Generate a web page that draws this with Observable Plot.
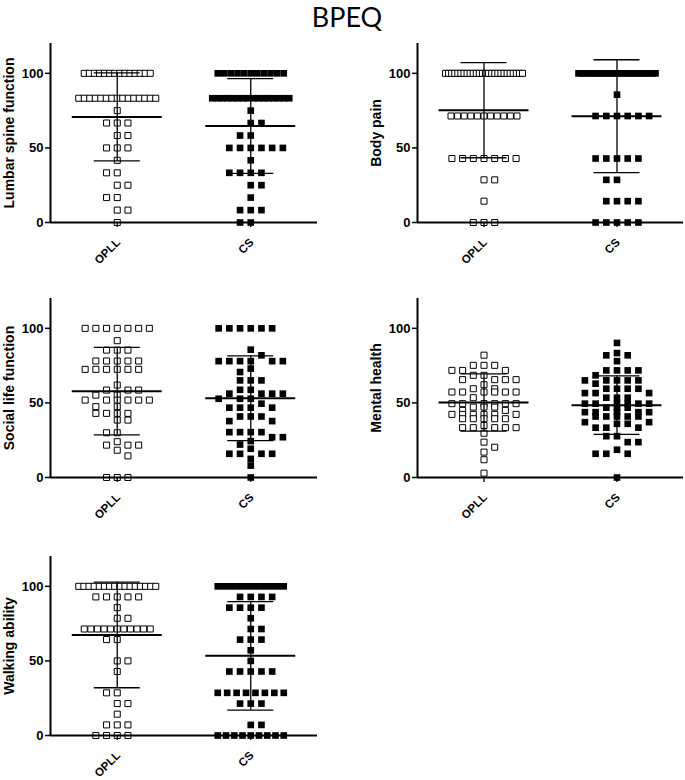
<!DOCTYPE html>
<html><head><meta charset="utf-8">
<script src="https://cdn.jsdelivr.net/npm/d3@7"></script>
<script src="https://cdn.jsdelivr.net/npm/@observablehq/plot@0.6"></script>
<style>
body{margin:0;background:#fff;}
#root{position:relative;width:685px;height:780px;overflow:hidden;background:#fff;}
#title{position:absolute;left:0;top:0;width:685px;padding-left:9px;box-sizing:border-box;text-align:center;font:400 27px/33px Lato, "Open Sans", sans-serif;color:#000;}
.panel{position:absolute;}
</style></head><body>
<div id="root"><div id="title">BPEQ</div></div>
<script>
// ---- data ----
const groups = ["OPLL", "CS"];
const yTicks = [0, 50, 100];
const labels = ["Lumbar spine function", "Body pain", "Social life function", "Mental health", "Walking ability"];

// [value, count]
const lumbarOPLL = [[100,14],[83.3,15],[75,1],[66.7,3],[58.3,2],[50,3],[41.7,1],[33.3,2],[25,2],[16.7,2],[8.3,2],[0,1]];
const lumbarCS   = [[100,11],[83.3,16],[75,1],[66.7,2],[58.3,2],[50,6],[41.7,1],[33.3,4],[25,2],[16.7,1],[8.3,3],[0,2]];
const bodyOPLL   = [[100,26],[71.4,11],[42.9,7],[28.6,2],[14.3,1],[0,3]];
const bodyCS     = [[100,28],[85.7,1],[71.4,6],[42.9,5],[28.6,2],[14.3,4],[0,5]];
const socialOPLL = [[100,7],[91.7,1],[85.4,3],[78.1,5],[72.5,6],[62,1],[58.6,3],[55.2,2],[51.9,6],[47.5,2],[43,4],[38.5,2],[30,2],[24,1],[21.7,3],[18.3,1],[14.5,1],[0,3]];
const socialCS   = [[100,6],[85.7,1],[81.9,1],[78,6],[73,1],[70.7,1],[65.1,3],[58.8,2],[56.2,4],[52.8,3],[49.5,1],[46.8,4],[40.9,3],[37.8,2],[30.4,4],[27,2],[24.4,1],[22.1,1],[19.3,1],[15.9,4],[12.5,1],[8,1],[0,1]];
const mentalOPLL = [[82,1],[75.2,3],[71.8,3],[68.5,2],[65.6,4],[62.2,1],[59.5,2],[57.3,6],[53.5,1],[49.5,6],[47.2,3],[45,2],[42.3,6],[39.4,5],[34.9,1],[33.4,5],[29.7,1],[23.7,1],[20.3,1],[17,1],[11.9,1],[2.9,1]];
const mentalCS   = [[90.2,1],[83.4,1],[81.9,2],[78,1],[71.8,4],[68.5,1],[65.1,5],[62.9,1],[59.5,4],[56.6,3],[53.5,3],[49.5,6],[46.8,3],[43.8,5],[40.9,5],[37.1,2],[36,2],[33.4,3],[27.7,2],[23.7,2],[18.6,1],[15.9,3],[0,1]];
const walkOPLL   = [[100,16],[92.9,5],[85.7,1],[78.6,2],[71.4,11],[64.3,2],[50,2],[42.9,1],[28.6,2],[21.4,2],[14.3,1],[7.1,3],[0,4]];
const walkCS     = [[100,12],[92.9,4],[85.7,4],[78.6,1],[71.4,2],[64.3,3],[57.1,1],[50,1],[42.9,5],[28.6,8],[21.4,3],[7.1,2],[0,9]];

// mean and SD per group [OPLL, CS]
const meanLumbar = [70.8, 64.7], sdLumbar = [29.5, 31.7];
const meanBody   = [75.3, 71.3], sdBody   = [31.9, 37.8];
const meanSocial = [57.9, 53.1], sdSocial = [29.3, 28.4];
const meanMental = [50.3, 48.5], sdMental = [19.2, 19.6];
const meanWalk   = [67.4, 53.4], sdWalk   = [35.4, 36.4];

// ---- layout ----
const panels = [
  {label: labels[0], data: [lumbarOPLL, lumbarCS], mean: meanLumbar, sd: sdLumbar, left: 0, top: 33, right: false},
  {label: labels[1], data: [bodyOPLL, bodyCS], mean: meanBody, sd: sdBody, left: 367, top: 33, right: true},
  {label: labels[2], data: [socialOPLL, socialCS], mean: meanSocial, sd: sdSocial, left: 0, top: 288, right: false},
  {label: labels[3], data: [mentalOPLL, mentalCS], mean: meanMental, sd: sdMental, left: 367, top: 288, right: true},
  {label: labels[4], data: [walkOPLL, walkCS], mean: meanWalk, sd: sdWalk, left: 0, top: 546, right: false}
];

const PLOT_H = 179, Y_MAX = 120;
const PX_PER_Y = PLOT_H / Y_MAX;
const STEP = 10.7, COLL_X = 9, COLL_Y = 6.6;

function swarm(pairs) {
  const placed = [];
  let sign = -1;
  const sorted = pairs.slice().sort((a, b) => b[0] - a[0]);
  for (const [v, n] of sorted) {
    const py = v * PX_PER_Y;
    if (n >= 8) {
      const span = Math.min((n - 1) * STEP, n >= 15 ? 77 : 66);
      for (let i = 0; i < n; i++) placed.push({v, px: -span / 2 + span * i / (n - 1), py});
    } else {
      const cands = [0];
      for (let k = 1; k <= 3; k++) cands.push(sign * k, -sign * k);
      const halfs = [0.5 * sign, -0.5 * sign, 1.5 * sign, -1.5 * sign, 2.5 * sign, -2.5 * sign];
      for (let i = 0; i < n; i++) {
        let best = null;
        for (const c of cands.concat(halfs)) {
          const cx = c * STEP;
          const hit = placed.some(p => Math.abs(p.px - cx) < COLL_X && Math.abs(p.py - py) < COLL_Y);
          if (!hit) { best = cx; break; }
        }
        if (best === null) {
          let bestScore = -1;
          for (const c of cands) {
            const cx = c * STEP;
            let d = Infinity;
            for (const p of placed) if (Math.abs(p.px - cx) < COLL_X) d = Math.min(d, Math.abs(p.py - py));
            if (d > bestScore) { bestScore = d; best = cx; }
          }
        }
        placed.push({v, px: best, py});
      }
    }
    if (n % 2 === 0) sign = -sign;
  }
  return placed;
}

const FONT = "'Liberation Sans', Arial, Helvetica, sans-serif";

function makePanel(p) {
  const ml = 50, mr = p.right ? 2 : 25;
  const width = p.right ? 318 : 342;
  const plotW = width - ml - mr;
  const pxPerX = plotW / 2;
  const pts = [];
  p.data.forEach((pairs, gi) => {
    swarm(pairs).forEach(q => pts.push({g: gi, x: gi + q.px / pxPerX, y: q.v}));
  });
  const stats = p.mean.map((m, i) => ({g: i, mean: m, lo: m - p.sd[i], hi: m + p.sd[i]}));
  const hwMean = 45 / pxPerX, hwSD = 23 / pxPerX;
  return Plot.plot({
    width, height: 10 + PLOT_H + 45,
    marginLeft: ml, marginRight: mr, marginTop: 10, marginBottom: 45,
    x: {type: "linear", domain: [-0.5, 1.5]},
    y: {type: "linear", domain: [0, Y_MAX]},
    style: {fontFamily: FONT, background: "white", overflow: "visible", color: "black"},
    marks: [
      Plot.dot(pts.filter(d => d.g === 0), {x: "x", y: "y", symbol: "square", r: 3.4, fill: "white", stroke: "black", strokeWidth: 1}),
      Plot.dot(pts.filter(d => d.g === 1), {x: "x", y: "y", symbol: "square", r: 3.75, fill: "black", stroke: "none"}),
      Plot.ruleX(stats, {x: "g", y1: "lo", y2: "hi", stroke: "black", strokeWidth: 1.3}),
      Plot.ruleY(stats, {y: "mean", x1: d => d.g - hwMean, x2: d => d.g + hwMean, stroke: "black", strokeWidth: 2}),
      Plot.ruleY(stats, {y: "hi", x1: d => d.g - hwSD, x2: d => d.g + hwSD, stroke: "black", strokeWidth: 1.3}),
      Plot.ruleY(stats, {y: "lo", x1: d => d.g - hwSD, x2: d => d.g + hwSD, stroke: "black", strokeWidth: 1.3}),
      Plot.ruleX([-0.5], {y1: 0, y2: Y_MAX, stroke: "black", strokeWidth: 2}),
      Plot.ruleY([0], {x1: -0.5, x2: 1.5, stroke: "black", strokeWidth: 2}),
      Plot.axisY({ticks: yTicks, tickSize: 5, tickPadding: 2, fontSize: 13, fontWeight: "bold", label: null, strokeWidth: 1.5}),
      Plot.axisX({ticks: [0, 1], tickSize: 5, tickFormat: () => "", label: null, strokeWidth: 1.3}),
      Plot.text(groups.map((g, i) => ({g: i, name: g})), {x: "g", y: 0, text: "name", rotate: -45, textAnchor: "end", dx: 1, dy: 18, fontSize: 11.5, fontWeight: "bold", fill: "black"}),
      Plot.text([p.label], {frameAnchor: "left", textAnchor: "middle", rotate: -90, dx: -41, fontSize: 14, fontWeight: "bold", fill: "black"})
    ]
  });
}

const root = document.getElementById("root");
for (const p of panels) {
  const svg = makePanel(p);
  const wrap = document.createElement("div");
  wrap.className = "panel";
  wrap.style.left = p.left + "px";
  wrap.style.top = p.top + "px";
  wrap.appendChild(svg);
  root.appendChild(wrap);
}
</script>
</body></html>
